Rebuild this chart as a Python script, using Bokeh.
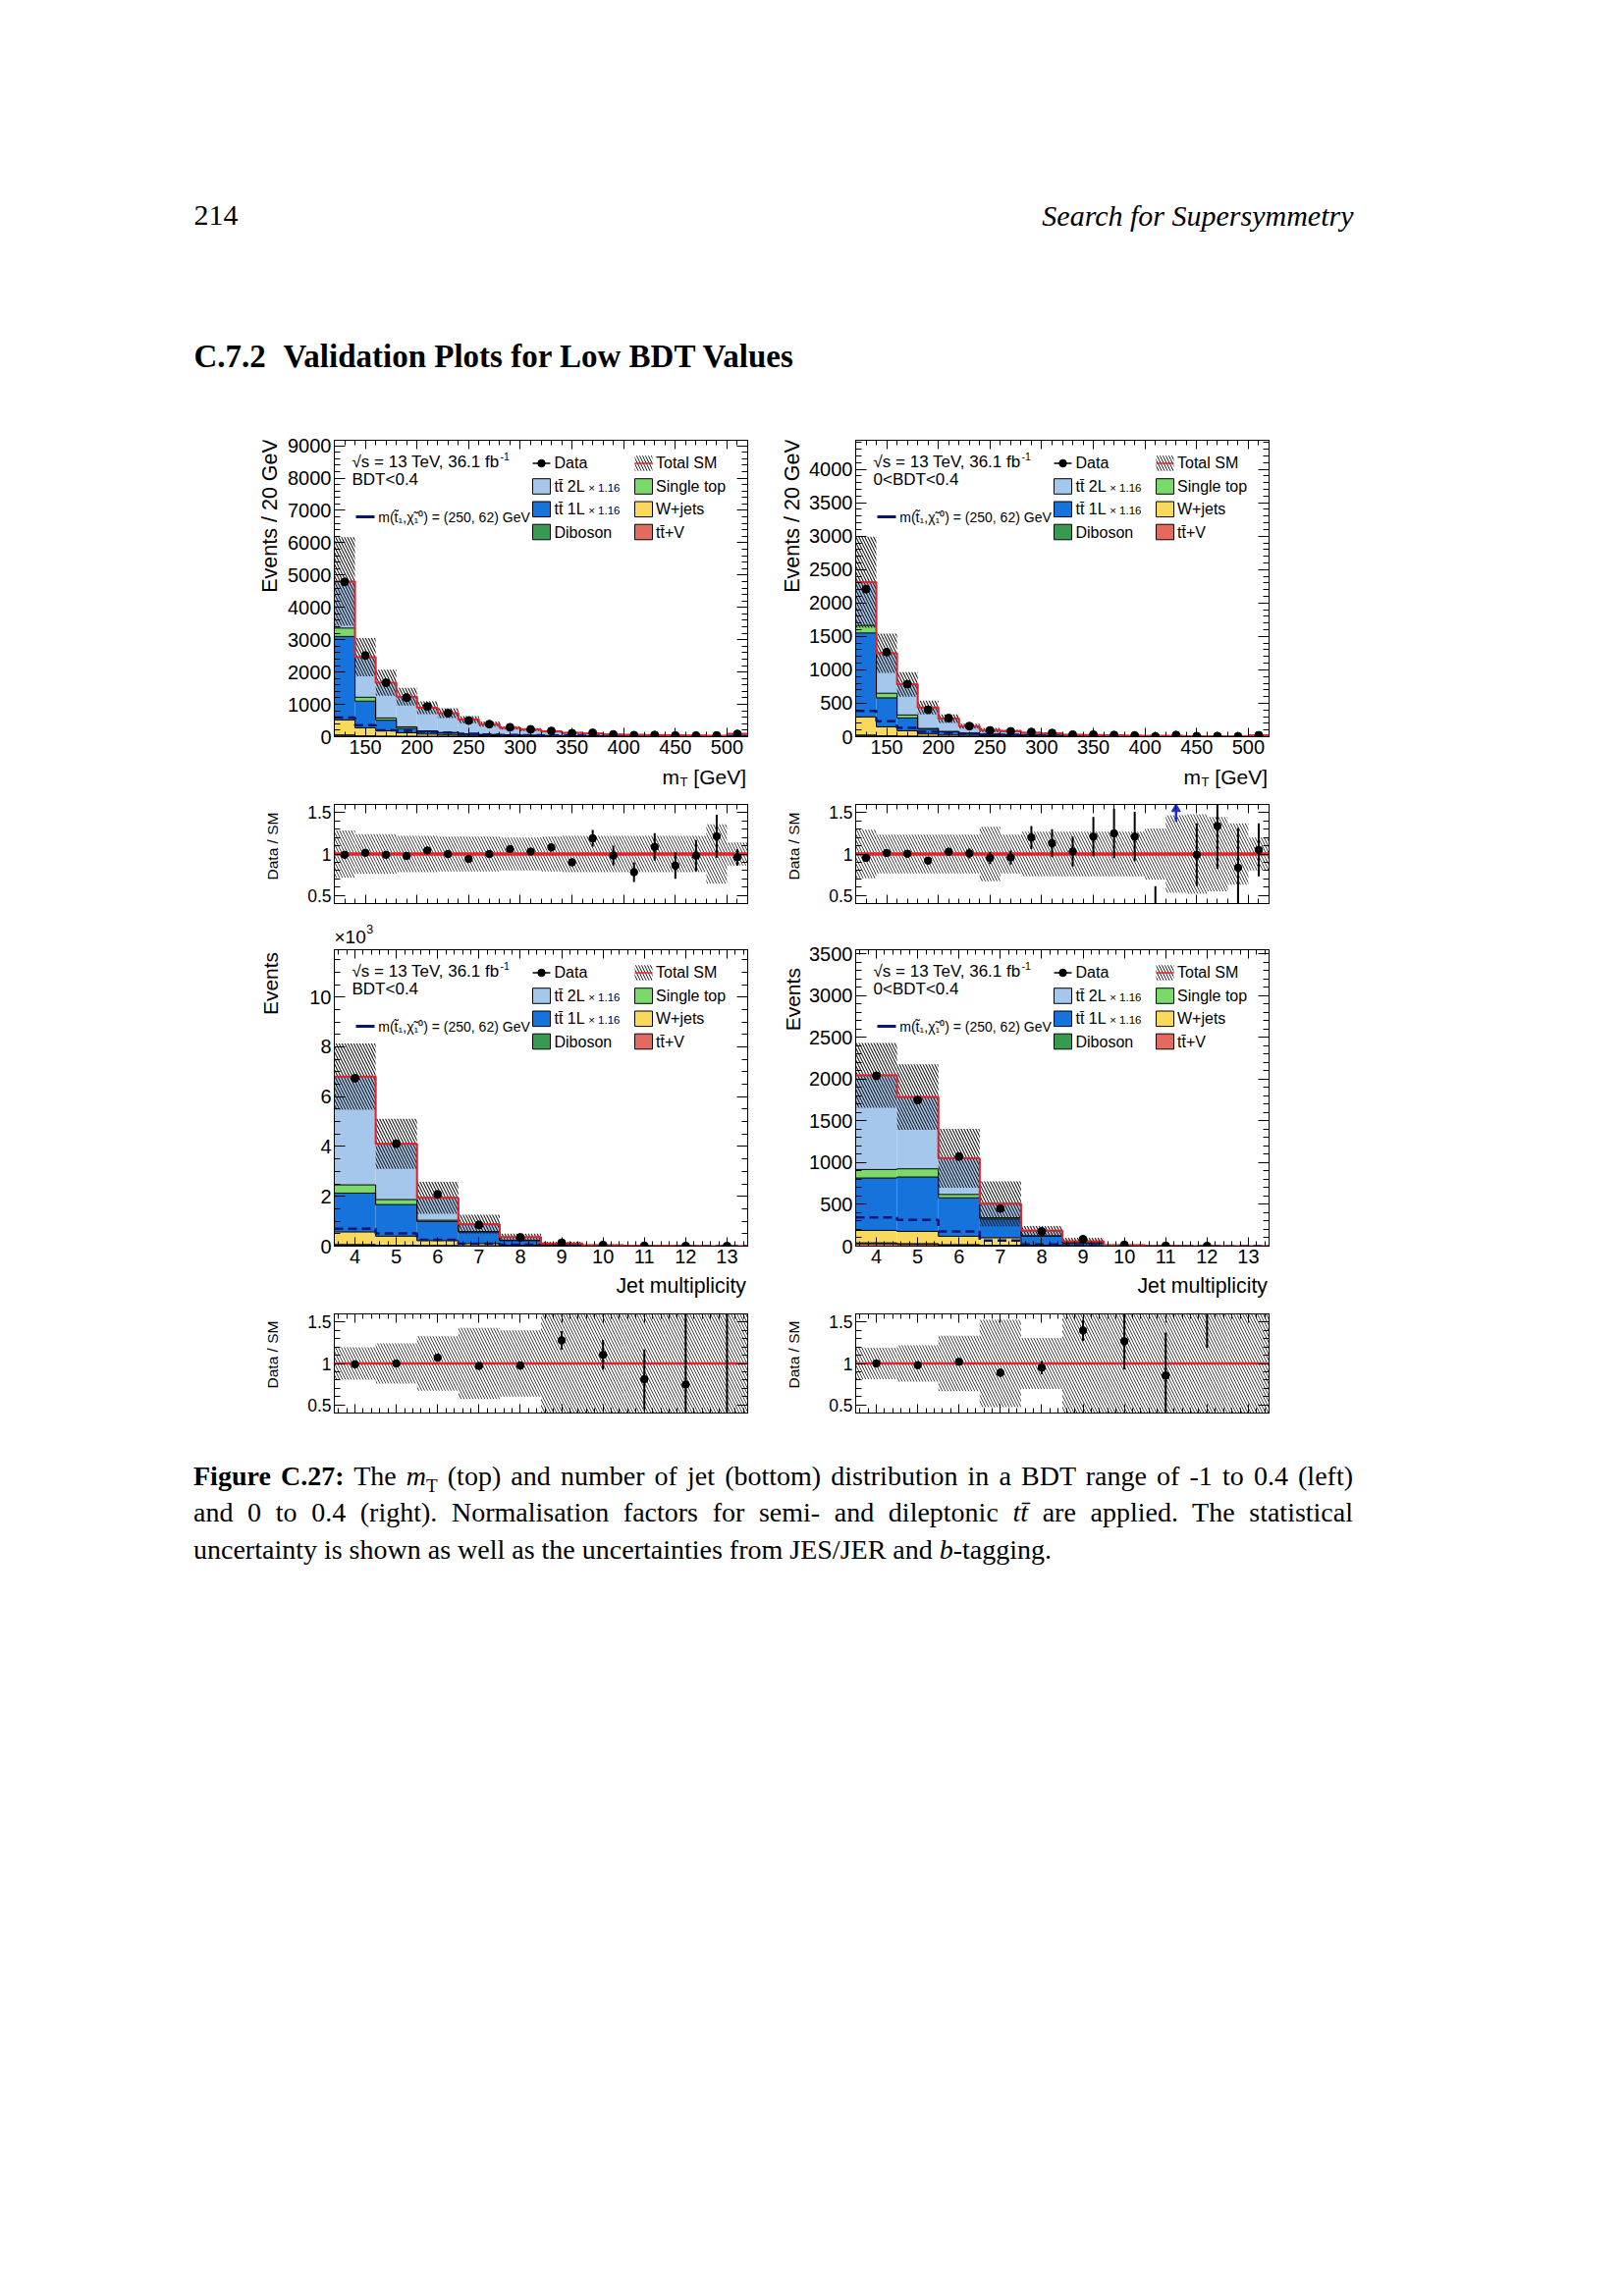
import math
import numpy as np
from bokeh.plotting import figure
from bokeh.models import (Range1d, FixedTicker, LinearAxis, Label,
                          CustomJSTickFormatter, Div, Spacer)
from bokeh.layouts import column, row
from bokeh.embed import file_html
from bokeh.resources import INLINE

SANS = "Liberation Sans"
SERIF = "Liberation Serif"

# ---------------------------------------------------------------- data
mt_lo = [120, 140, 160, 180, 200, 220, 240, 260, 280, 300, 320, 340, 360, 380, 400, 420, 440, 460, 480, 500]
mt_hi = [140, 160, 180, 200, 220, 240, 260, 280, 300, 320, 340, 360, 380, 400, 420, 440, 460, 480, 500, 520]
mt_ctr = [130, 150, 170, 190, 210, 230, 250, 270, 290, 310, 330, 350, 370, 390, 410, 430, 450, 470, 490, 510]
nj_ctr = [4, 5, 6, 7, 8, 9, 10, 11, 12, 13]
nj_lo = [3.5, 4.5, 5.5, 6.5, 7.5, 8.5, 9.5, 10.5, 11.5, 12.5]
nj_hi = [4.5, 5.5, 6.5, 7.5, 8.5, 9.5, 10.5, 11.5, 12.5, 13.5]

# top-left : mT, BDT<0.4
tl_ttv = [20, 10, 6, 5, 4, 3, 3, 2, 2, 2, 1, 1, 1, 1, 1, 0.5, 0.5, 0.5, 0.5, 1]
tl_dib = [35, 15, 10, 7, 6, 5, 4, 3, 3, 2, 2, 2, 1, 1, 1, 1, 1, 0.5, 0.5, 1]
tl_wjets = [465, 250, 167, 108, 70, 42, 33, 25, 23, 16, 12, 9, 8, 5, 4, 3, 3, 2, 2, 5]
tl_tt1l = [2580, 825, 327, 135, 80, 70, 40, 30, 22, 20, 15, 13, 10, 7, 6, 5, 4, 3, 3, 8]
tl_st = [260, 120, 70, 50, 20, 10, 10, 10, 5, 5, 5, 3, 2, 2, 2, 1, 1, 1, 1, 2]
tl_tt2l = [1440, 1240, 1090, 935, 715, 600, 440, 320, 220, 175, 130, 92, 78, 54, 46, 39.5, 32.5, 28, 23, 73]
tl_sig = [590, 356, 200, 180, 150, 130, 90, 70, 55, 45, 40, 35, 28, 22, 18, 15, 12, 10, 8, 25]
tl_data = [4790, 2510, 1670, 1210, 935, 730, 500, 390, 292, 227, 178, 108, 119, 69, 47, 54, 36, 34, 36, 86]
tl_ratio = [0.99, 1.015, 0.99, 0.977, 1.043, 1.0, 0.94, 1.0, 1.06, 1.03, 1.08, 0.90, 1.19, 0.98, 0.78, 1.086, 0.86, 0.98, 1.215, 0.96]
tl_ratio_err = [0.012, 0.015, 0.02, 0.02, 0.025, 0.03, 0.035, 0.04, 0.035, 0.03, 0.05, 0.05, 0.10, 0.12, 0.12, 0.165, 0.16, 0.19, 0.26, 0.10]
tl_unc = [0.285, 0.24, 0.24, 0.22, 0.22, 0.21, 0.21, 0.21, 0.20, 0.20, 0.21, 0.22, 0.22, 0.22, 0.22, 0.22, 0.22, 0.22, 0.36, 0.14]

# top-right : mT, 0<BDT<0.4
tr_ttv = [10, 5, 3, 2, 2, 1, 1, 1, 1, 0.5, 0.5, 0.5, 0.3, 0.3, 0.2, 0.2, 0.2, 0.1, 0.1, 0.3]
tr_dib = [15, 8, 5, 3, 2, 2, 1, 1, 1, 1, 0.5, 0.5, 0.3, 0.3, 0.2, 0.2, 0.2, 0.1, 0.1, 0.3]
tr_wjets = [271, 135, 81, 35, 21, 17, 13, 10, 8, 6, 4, 3, 3, 2, 2, 1, 1, 1, 1, 2]
tr_tt1l = [1256, 433, 192, 73, 49, 29, 20, 15, 12, 10, 7, 6, 5, 4, 3, 3, 2, 2, 1.5, 4]
tr_st = [113, 69, 44, 10, 5, 4, 3, 3, 2, 2, 1, 1, 1, 1, 0.5, 0.5, 0.5, 0.5, 0.3, 1]
tr_tt2l = [645, 600, 458, 315, 192, 105, 61, 54, 35, 29.5, 17, 14, 10.4, 7.4, 6.1, 5.1, 4.1, 3.3, 3, 12.4]
tr_sig = [384, 231, 133, 74, 59, 49, 35, 28, 22, 18, 15, 12, 10, 8, 7, 6, 5, 4, 4, 10]
tr_data = [2207, 1265, 786, 403, 278, 159, 94, 80, 71, 55, 31, 30, 25, 18, 4, 25, 8, 9, 5, 21]
tr_ratio = [0.953, 1.012, 1.004, 0.92, 1.027, 1.008, 0.953, 0.957, 1.20, 1.13, 1.03, 1.21, 1.25, 1.21, 0.33, 2.5, 0.99, 1.34, 0.835, 1.05]
tr_ratio_err = [0.015, 0.02, 0.03, 0.04, 0.05, 0.06, 0.075, 0.085, 0.14, 0.17, 0.18, 0.24, 0.30, 0.30, 0.28, 0.60, 0.38, 0.52, 0.48, 0.32]
tr_unc = [0.295, 0.235, 0.235, 0.235, 0.235, 0.235, 0.33, 0.235, 0.27, 0.27, 0.27, 0.27, 0.27, 0.27, 0.31, 0.47, 0.48, 0.45, 0.37, 0.20]

# bottom-left : jets, BDT<0.4
bl_ttv = [40, 25, 15, 8, 4, 2, 1, 0.5, 0.2, 0.05]
bl_dib = [26, 15, 10, 5, 2, 1, 0.5, 0.2, 0.1, 0.02]
bl_wjets = [504, 360, 195, 92, 34, 7, 3.5, 1, 0.3, 0.03]
bl_tt1l = [1560, 1270, 770, 465, 180, 55, 15, 5, 1.5, 0.15]
bl_st = [330, 200, 50, 20, 20, 5, 2, 0.5, 0.2, 0.02]
bl_tt2l = [4350, 2240, 900, 290, 120, 35, 18, 7.8, 2.7, 0.13]
bl_sig = [700, 510, 260, 100, 60, 20, 8, 3, 1, 0.3]
bl_data = [6740, 4110, 2080, 855, 350, 134, 44, 12, 4, 1]
bl_ratio = [0.99, 1.0, 1.07, 0.97, 0.975, 1.28, 1.105, 0.81, 0.745, 2.5]
bl_ratio_err = [0.012, 0.016, 0.025, 0.035, 0.05, 0.11, 0.18, 0.36, 0.9, 2.3]
bl_unc = [0.195, 0.245, 0.33, 0.43, 0.40, 0.70, 0.70, 0.70, 0.70, 0.70]

# bottom-right : jets, 0<BDT<0.4
br_ttv = [28, 20, 12, 6, 3, 1, 0.5, 0.1, 0.05, 0.02]
br_dib = [12, 10, 6, 3, 1, 0.5, 0.2, 0.05, 0.02, 0.01]
br_wjets = [149, 147, 100, 91, 6, 2, 0.5, 0.1, 0.05, 0.02]
br_tt1l = [627, 651, 461, 225, 110, 36, 7, 1.5, 0.3, 0.1]
br_st = [102, 98, 40, 15, 5, 2, 0.5, 0.1, 0.03, 0.01]
br_tt2l = [1128, 860, 433, 168, 60, 17.5, 3.3, 1.15, 0.15, 0.04]
br_sig = [343, 315, 177, 67, 20, 8, 2, 0.5, 0.1, 0.04]
br_data = [2040, 1750, 1073, 450, 176, 83, 15, 3, 1, 0]
br_ratio = [1.0, 0.98, 1.02, 0.887, 0.95, 1.40, 1.27, 0.855, 2.0, 0.0]
br_ratio_err = [0.02, 0.025, 0.035, 0.05, 0.08, 0.13, 0.34, 0.52, 0.81, 0.0]
br_unc = [0.19, 0.22, 0.335, 0.53, 0.31, 0.70, 0.70, 0.70, 0.70, 0.70]

# ---------------------------------------------------------------- style
C_TT2L = "#a6c7ec"
C_TT1L = "#1673dc"
C_ST = "#7bd96a"
C_W = "#f9d95c"
C_DIB = "#389a50"
C_TTV = "#e4695e"
C_RED = "#e2232b"
C_SIG = "#0b1470"
C_ARROW = "#1a2fd0"
HATCH = "\\"

AW = {c: 556 for c in "0123456789"}
AW.update({' ': 278, '.': 278, ',': 278, '-': 333, '(': 333, ')': 333, '[': 278, ']': 278,
           '/': 278, '<': 584, '=': 584, '+': 584, '\u00d7': 584, '\u221a': 549, ':': 278,
           '\u0304': 0})
AW.update(dict(A=667, B=667, C=722, D=722, E=667, F=611, G=778, H=722, I=278, J=500, K=667, L=556,
               M=833, N=722, O=778, P=667, Q=778, R=722, S=667, T=611, U=722, V=667, W=944, X=667,
               Y=667, Z=611))
AW.update(dict(a=556, b=556, c=500, d=556, e=556, f=278, g=556, h=556, i=222, j=222, k=500, l=222,
               m=833, n=556, o=556, p=556, q=556, r=333, s=500, t=278, u=556, v=500, w=722, x=500,
               y=500, z=500))


def tw(s, size):
    return sum(AW.get(c, 556) for c in s) / 1000.0 * size


def make_fig(W, H, ox, oy, FL, FT, FW, FH, x0, x1, y0, y1):
    p = figure(width=W, height=H, output_backend="svg", toolbar_location=None,
               x_range=Range1d(x0, x1), y_range=Range1d(y0, y1),
               x_axis_type=None, y_axis_type=None,
               min_border_left=int(round(FL - ox)), min_border_right=int(round(ox + W - FL - FW)),
               min_border_top=int(round(FT - oy)), min_border_bottom=int(round(oy + H - FT - FH)))
    p.outline_line_color = "black"
    p.outline_line_width = 1
    p.background_fill_color = "white"
    p.border_fill_color = "white"
    FB = FT + FH

    def dx(px):
        return x0 + (px - FL) / FW * (x1 - x0)

    def dy(py):
        return y0 + (FB - py) / FH * (y1 - y0)
    return p, dx, dy


def tfig(ox, oy, w, h):
    """A blank figure whose data coordinates are page pixels (for page texts)."""
    p = figure(width=w, height=h, output_backend="svg", toolbar_location=None,
               x_range=Range1d(ox, ox + w), y_range=Range1d(oy + h, oy),
               x_axis_type=None, y_axis_type=None,
               min_border_left=0, min_border_right=0, min_border_top=0, min_border_bottom=0)
    p.outline_line_color = None
    p.background_fill_color = "white"
    p.border_fill_color = "white"
    return p


def add_axis(p, side, ticks, minor, tick_len, minor_len, show, size=20, standoff=3, fmt=None):
    ax = LinearAxis(ticker=FixedTicker(ticks=ticks, minor_ticks=minor))
    ax.axis_line_color = "black"
    ax.major_tick_in = int(tick_len)
    ax.major_tick_out = 0
    ax.minor_tick_in = int(minor_len)
    ax.minor_tick_out = 0
    ax.major_tick_line_color = "black"
    ax.minor_tick_line_color = "black"
    ax.major_label_text_font = SANS
    ax.major_label_text_color = "black"
    if show:
        ax.major_label_text_font_size = f"{size}px"
        ax.major_label_standoff = standoff
        if fmt is not None:
            ax.formatter = fmt
    else:
        ax.major_label_text_font_size = "0px"
        ax.major_label_standoff = 0
        ax.formatter = CustomJSTickFormatter(code="return '';")
    p.add_layout(ax, side)


def lab(p, x, y, text, size, align="left", baseline="middle", angle=0.0,
        font=SANS, style="normal", color="black"):
    p.add_layout(Label(x=x, y=y, text=text, text_font=font, text_font_size=f"{size}px",
                       text_align=align, text_baseline=baseline, angle=angle,
                       text_color=color, text_font_style=style))


def step_xy(lo, hi, vals):
    return list(lo) + [hi[-1]], list(vals) + [vals[-1]]


def legend(p, dx, dy, FL, FT, region):
    fs = 16
    t1 = "\u221as = 13 TeV, 36.1 fb"
    lab(p, dx(FL + 18), dy(FT + 22.3), t1, 17)
    lab(p, dx(FL + 18 + tw(t1, 17) - 2.5), dy(FT + 16.5), "-1", 10.5)
    lab(p, dx(FL + 18), dy(FT + 40.3), region, 17)
    # signal entry
    p.segment(x0=[dx(FL + 22)], y0=[dy(FT + 78)], x1=[dx(FL + 41)], y1=[dy(FT + 78)],
              line_color=C_SIG, line_width=3)
    lab(p, dx(FL + 44.8), dy(FT + 78.5), "m(t\u0303\u2081,\u03c7\u0303\u2081\u2070) = (250, 62) GeV", 14)
    c1a, c1b, c1t = FL + 202, FL + 220, FL + 224
    c2a, c2b, c2t = FL + 306, FL + 324, FL + 327.5
    rows = [FT + 23.5, FT + 47.0, FT + 70.3, FT + 93.5]
    hh = 7.8
    # Data
    p.segment(x0=[dx(c1a)], y0=[dy(rows[0])], x1=[dx(c1b)], y1=[dy(rows[0])],
              line_color="black", line_width=1.5)
    p.scatter(x=[dx((c1a + c1b) / 2)], y=[dy(rows[0])], size=7.5, color="black")
    lab(p, dx(c1t), dy(rows[0] - 0.5), "Data", fs)
    # Total SM
    p.quad(left=[dx(c2a)], right=[dx(c2b)], top=[dy(rows[0] - hh)], bottom=[dy(rows[0] + hh)],
           fill_alpha=0, line_color=None, hatch_pattern=HATCH, hatch_color="#222222",
           hatch_scale=6, hatch_weight=1)
    p.segment(x0=[dx(c2a)], y0=[dy(rows[0])], x1=[dx(c2b)], y1=[dy(rows[0])],
              line_color=C_RED, line_width=1.5)
    lab(p, dx(c2t), dy(rows[0] - 0.5), "Total SM", fs)
    col1 = [("tt\u0304 2L", C_TT2L, True), ("tt\u0304 1L", C_TT1L, True), ("Diboson", C_DIB, False)]
    col2 = [("Single top", C_ST), ("W+jets", C_W), ("tt\u0304+V", C_TTV)]
    for i, (t, c, nf) in enumerate(col1):
        yc = rows[i + 1]
        p.quad(left=[dx(c1a)], right=[dx(c1b)], top=[dy(yc - hh)], bottom=[dy(yc + hh)],
               fill_color=c, line_color="black", line_width=1)
        lab(p, dx(c1t), dy(yc), t, fs)
        if nf:
            lab(p, dx(c1t + tw("tt 2L", fs) + 3.5), dy(yc + 1.5), "\u00d7 1.16", 11.5)
    for i, (t, c) in enumerate(col2):
        yc = rows[i + 1]
        p.quad(left=[dx(c2a)], right=[dx(c2b)], top=[dy(yc - hh)], bottom=[dy(yc + hh)],
               fill_color=c, line_color="black", line_width=1)
        lab(p, dx(c2t), dy(yc), t, fs)


FW, FH_MAIN, FH_RAT = 421, 302, 101


def main_panel(W, H, ox, oy, FL, FT, xr, yr, lo, hi, ctr, comps, sig, data, unc, region,
               xticks, xminor, yticks, yminor, yfmt=None):
    x0, x1 = xr
    y0, y1 = yr
    p, dx, dy = make_fig(W, H, ox, oy, FL, FT, FW, FH_MAIN, x0, x1, y0, y1)
    n = len(lo)
    base = np.zeros(n)
    tops = []
    for vals, col in comps:
        top = base + np.array(vals, dtype=float)
        p.quad(left=lo, right=hi, bottom=base, top=top, fill_color=col, line_color=None)
        tops.append(top)
        base = top
    for top in tops:
        sx, sy = step_xy(lo, hi, top)
        p.step(x=sx, y=sy, mode="after", line_color="black", line_width=1)
    total = base
    sx, sy = step_xy(lo, hi, sig)
    p.step(x=sx, y=sy, mode="after", line_color=C_SIG, line_width=2.5, line_dash="9 5")
    u = np.array(unc)
    p.quad(left=lo, right=hi, bottom=total * (1 - u), top=np.minimum(total * (1 + u), y1),
           fill_alpha=0, line_color=None, hatch_pattern=HATCH, hatch_color="#1a1a1a",
           hatch_scale=6, hatch_weight=1.1)
    sx, sy = step_xy(lo, hi, total)
    p.step(x=sx, y=sy, mode="after", line_color=C_RED, line_width=2)
    d = np.array(data, dtype=float)
    c = np.array(ctr, dtype=float)
    m = d > 0
    p.scatter(x=c[m], y=d[m], size=8, color="black")

    add_axis(p, "left", yticks, yminor, 11, 6, True, 20, 3, yfmt)
    add_axis(p, "right", yticks, yminor, 11, 6, False)
    add_axis(p, "below", xticks, xminor, 9, 5, True, 20, 3)
    add_axis(p, "above", xticks, xminor, 9, 5, False)
    legend(p, dx, dy, FL, FT, region)
    return p


def ratio_panel(W, H, ox, oy, FL, FT, xr, lo, hi, ctr, ratio, rerr, unc, data,
                xticks, xminor, red_w):
    x0, x1 = xr
    y0, y1 = 0.4, 1.6
    p, dx, dy = make_fig(W, H, ox, oy, FL, FT, FW, FH_RAT, x0, x1, y0, y1)
    u = np.array(unc)
    p.quad(left=lo, right=hi, bottom=np.clip(1 - u, y0, y1), top=np.clip(1 + u, y0, y1),
           fill_alpha=0, line_color=None, hatch_pattern=HATCH, hatch_color="#404040",
           hatch_scale=6, hatch_weight=1)
    p.segment(x0=[x0], y0=[1.0], x1=[x1], y1=[1.0], line_color=C_RED, line_width=red_w)
    r = np.array(ratio, dtype=float)
    e = np.array(rerr, dtype=float)
    c = np.array(ctr, dtype=float)
    d = np.array(data, dtype=float)
    mb = (r + e > y0) & (r - e < y1) & (e > 0)
    p.segment(x0=c[mb], y0=np.clip(r - e, y0, y1)[mb], x1=c[mb], y1=np.clip(r + e, y0, y1)[mb],
              line_color="black", line_width=2)
    md = (r >= y0) & (r <= y1) & (d > 0)
    p.scatter(x=c[md], y=r[md], size=7.5, color="black")
    ma = (r - e > y1)
    if ma.any():
        k = int(ma.sum())
        p.segment(x0=c[ma], y0=[1.39] * k, x1=c[ma], y1=[1.52] * k, line_color=C_ARROW, line_width=2.5)
        p.scatter(x=c[ma], y=[1.545] * k, marker="triangle", size=9, color=C_ARROW)
    rfmt = CustomJSTickFormatter(code="return tick == 1 ? '1' : tick.toFixed(1);")
    yt = [0.5, 1.0, 1.5]
    ym = [0.4, 0.6, 0.7, 0.8, 0.9, 1.1, 1.2, 1.3, 1.4, 1.6]
    add_axis(p, "left", yt, ym, 11, 6, True, 17.5, 3, rfmt)
    add_axis(p, "right", yt, ym, 11, 6, False)
    add_axis(p, "below", xticks, xminor, 9, 5, False)
    add_axis(p, "above", xticks, xminor, 9, 5, False)
    return p


mt_ticks = [150, 200, 250, 300, 350, 400, 450, 500]
mt_minor = list(range(120, 521, 10))
nj_ticks = nj_ctr
nj_minor = [round(3.6 + 0.2 * i, 2) for i in range(50)]

# ---------------------------------------------------------------- page geometry (pixels)
PAGE_W = 1654
TLX, TLW = 0, 288            # left title column
LX, LW, LFL = 288, 492, 340  # left panels
TRX, TRW = 780, 38           # right title column
RX, RW, RFL = 818, 836, 871  # right panels
LFR, RFR = LFL + FW, RFL + FW
BLOCK_L_W = TLW + LW         # 780
BLOCK_R_W = TRW + RW         # 874

A_Y, A_H, A_FT = 420, 358, 448      # main row (mT)
XA_Y, XA_H = 778, 35                # x-title strip
B_Y, B_H, B_FT = 813, 122, 819      # ratio row
EX_Y, EX_H = 935, 30                # x10^3 strip (left block only)
C_FT = 967                          # main row (jets), frame top
CL_Y, CL_H = 965, 331
CR_Y, CR_H = 935, 361
XC_Y, XC_H = 1296, 34               # x-title strip
D_Y, D_H, D_FT = 1330, 125, 1338    # ratio row

tl_comps = [(tl_ttv, C_TTV), (tl_dib, C_DIB), (tl_wjets, C_W), (tl_tt1l, C_TT1L), (tl_st, C_ST), (tl_tt2l, C_TT2L)]
tr_comps = [(tr_ttv, C_TTV), (tr_dib, C_DIB), (tr_wjets, C_W), (tr_tt1l, C_TT1L), (tr_st, C_ST), (tr_tt2l, C_TT2L)]
bl_comps = [(bl_ttv, C_TTV), (bl_dib, C_DIB), (bl_wjets, C_W), (bl_tt1l, C_TT1L), (bl_st, C_ST), (bl_tt2l, C_TT2L)]
br_comps = [(br_ttv, C_TTV), (br_dib, C_DIB), (br_wjets, C_W), (br_tt1l, C_TT1L), (br_st, C_ST), (br_tt2l, C_TT2L)]

p_tl = main_panel(LW, A_H, LX, A_Y, LFL, A_FT, (120, 520), (0, 9170), mt_lo, mt_hi, mt_ctr,
                  tl_comps, tl_sig, tl_data, tl_unc, "BDT<0.4", mt_ticks, mt_minor,
                  list(range(0, 9001, 1000)), list(range(0, 9171, 200)))
p_tr = main_panel(RW, A_H, RX, A_Y, RFL, A_FT, (120, 520), (0, 4435), mt_lo, mt_hi, mt_ctr,
                  tr_comps, tr_sig, tr_data, tr_unc, "0<BDT<0.4", mt_ticks, mt_minor,
                  list(range(0, 4001, 500)), list(range(0, 4436, 100)))
r_tl = ratio_panel(LW, B_H, LX, B_Y, LFL, B_FT, (120, 520), mt_lo, mt_hi, mt_ctr,
                   tl_ratio, tl_ratio_err, tl_unc, tl_data, mt_ticks, mt_minor, 3.5)
r_tr = ratio_panel(RW, B_H, RX, B_Y, RFL, B_FT, (120, 520), mt_lo, mt_hi, mt_ctr,
                   tr_ratio, tr_ratio_err, tr_unc, tr_data, mt_ticks, mt_minor, 3.5)
kfmt = CustomJSTickFormatter(code="return (tick/1000).toFixed(0);")
p_bl = main_panel(LW, CL_H, LX, CL_Y, LFL, C_FT, (3.5, 13.5), (0, 11900), nj_lo, nj_hi, nj_ctr,
                  bl_comps, bl_sig, bl_data, bl_unc, "BDT<0.4", nj_ticks, nj_minor,
                  list(range(0, 10001, 2000)), list(range(0, 11901, 500)), yfmt=kfmt)
p_br = main_panel(RW, CR_H, RX, CR_Y, RFL, C_FT, (3.5, 13.5), (0, 3550), nj_lo, nj_hi, nj_ctr,
                  br_comps, br_sig, br_data, br_unc, "0<BDT<0.4", nj_ticks, nj_minor,
                  list(range(0, 3501, 500)), list(range(0, 3551, 100)))
r_bl = ratio_panel(LW, D_H, LX, D_Y, LFL, D_FT, (3.5, 13.5), nj_lo, nj_hi, nj_ctr,
                   bl_ratio, bl_ratio_err, bl_unc, bl_data, nj_ticks, nj_minor, 2.5)
r_br = ratio_panel(RW, D_H, RX, D_Y, RFL, D_FT, (3.5, 13.5), nj_lo, nj_hi, nj_ctr,
                   br_ratio, br_ratio_err, br_unc, br_data, nj_ticks, nj_minor, 2.5)

VERT = math.pi / 2
# y-axis title columns: rotated titles anchored at their lower end (text reads upward)
ya_l = tfig(TLX, A_Y, TLW, A_H)
lab(ya_l, 274.5, 604, "Events / 20 GeV", 21.5, align="left", angle=VERT)
ya_r = tfig(TRX, A_Y, TRW, A_H)
lab(ya_r, 806.5, 604, "Events / 20 GeV", 21.5, align="left", angle=VERT)
yb_l = tfig(TLX, B_Y, TLW, B_H)
lab(yb_l, 277, 906, "Data / SM", 15.5, align="left", angle=VERT)
yb_r = tfig(TRX, B_Y, TRW, B_H)
lab(yb_r, 808, 906, "Data / SM", 15.5, align="left", angle=VERT)
yc_l = tfig(TLX, CL_Y, TLW, CL_H)
lab(yc_l, 274.5, 1038, "Events", 21, align="left", angle=VERT)
yc_r = tfig(TRX, CR_Y, TRW, CR_H)
lab(yc_r, 806.5, 1034, "Events", 21, align="left", angle=VERT)
yd_l = tfig(TLX, D_Y, TLW, D_H)
lab(yd_l, 277, 1424, "Data / SM", 15.5, align="left", angle=VERT)
yd_r = tfig(TRX, D_Y, TRW, D_H)
lab(yd_r, 808, 1424, "Data / SM", 15.5, align="left", angle=VERT)


def mt_title(fig, fr):
    xe = fr - 1.5
    yc = A_FT + FH_MAIN + 40.5
    w1 = tw("[GeV]", 21) + tw(" ", 21)
    lab(fig, xe, yc, "[GeV]", 21, align="right")
    lab(fig, xe - w1, yc + 5, "T", 13, align="right")
    lab(fig, xe - w1 - tw("T", 13) - 0.5, yc, "m", 21, align="right")


xa_l = tfig(0, XA_Y, BLOCK_L_W, XA_H)
mt_title(xa_l, LFR)
xa_r = tfig(TRX, XA_Y, BLOCK_R_W, XA_H)
mt_title(xa_r, RFR)
xc_l = tfig(0, XC_Y, BLOCK_L_W, XC_H)
lab(xc_l, LFR - 1.5, C_FT + FH_MAIN + 40.5, "Jet multiplicity", 21.3, align="right")
xc_r = tfig(TRX, XC_Y, BLOCK_R_W, XC_H)
lab(xc_r, RFR - 1.5, C_FT + FH_MAIN + 40.5, "Jet multiplicity", 21.3, align="right")

# x10^3 strip (left block)
ex = tfig(0, EX_Y, BLOCK_L_W, EX_H)
lab(ex, LFL, 953.5, "\u00d710", 19)
lab(ex, LFL + tw("\u00d710", 19) + 0.5, 945.5, "3", 12.5)

# header
hdr = tfig(0, 0, PAGE_W, 420)
lab(hdr, 197, 219, "214", 30, font=SERIF)
lab(hdr, 1378, 219, "Search for Supersymmetry", 30, align="right", font=SERIF, style="italic")
lab(hdr, 197, 362.4, "C.7.2", 33, font=SERIF, style="bold")
lab(hdr, 288, 362.4, "Validation Plots for Low BDT Values", 33, font=SERIF, style="bold")

cap_style = "text-align:justify;text-align-last:justify;"
cap_html = (
    "<div style=\"font-family:'Liberation Serif',serif;font-size:28px;line-height:37.3px;"
    "color:#000;width:1181px;\">"
    f"<div style=\"{cap_style}\"><b>Figure C.27:</b> The <i>m</i><sub style=\"font-size:19px;line-height:0\">T</sub> "
    "(top) and number of jet (bottom) distribution in a BDT range of -1 to 0.4 (left)</div>"
    f"<div style=\"{cap_style}\">and 0 to 0.4 (right). Normalisation factors for semi- and dileptonic "
    "<i>tt\u0304</i> are applied. The statistical</div>"
    "<div style=\"text-align:left;\">uncertainty is shown as well as the uncertainties from JES/JER "
    "and <i>b</i>-tagging.</div></div>"
)
cap = Div(text=cap_html, width=1200, height=120, margin=0)

left_block = column(
    row(ya_l, p_tl),
    xa_l,
    row(yb_l, r_tl),
    ex,
    row(yc_l, p_bl),
    xc_l,
    row(yd_l, r_bl),
)
right_block = column(
    row(ya_r, p_tr),
    xa_r,
    row(yb_r, r_tr),
    row(yc_r, p_br),
    xc_r,
    row(yd_r, r_br),
)

layout = column(
    hdr,
    row(left_block, right_block),
    Spacer(width=10, height=30),
    row(Spacer(width=197, height=10), cap),
)

open("out.html", "w").write(file_html(layout, INLINE))
